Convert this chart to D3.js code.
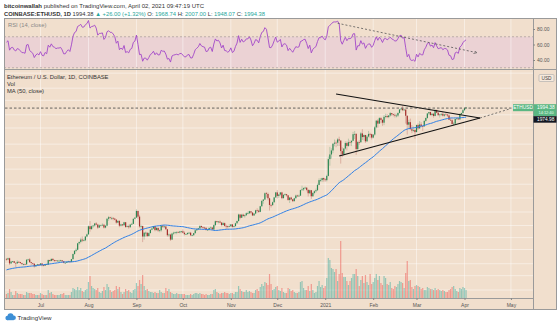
<!DOCTYPE html>
<html><head><meta charset="utf-8">
<script src="https://cdn.jsdelivr.net/npm/d3@7"></script>
<style>
body{margin:0;background:#fff}
svg{display:block;font-family:"Liberation Sans",Arial,sans-serif}
</style>
</head><body>
<svg id="c" width="560" height="325"></svg>
<script>
// ---------------- DATA ----------------
const firstCloseDate = "2020-04-20";   // closes start here (needed for MA50 / RSI14)
const displayStart = "2020-06-09";     // first candle drawn
const closes = [
171,170,182,185,188,194,197,196,197,216,206,
212,214,210,207,206,204,212,212,211,188,186,190,199,203,194,200,207,214,214,209,198,208,207,200,205,202,209,220,220,243,231,
248,237,244,244,241,242,245,246,244,248,231,237,238,233,231,236,235,232,229,229,228,243,244,235,232,230,222,226,228,226,
231,225,224,229,227,242,239,246,242,241,239,240,240,241,238,233,233,236,238,236,245,263,275,279,305,311,321,317,318,335,345,
386,371,386,390,401,395,379,391,391,394,379,389,428,437,433,433,429,423,406,416,389,396,391,408,382,386,381,395,399,428,435,
477,441,385,387,335,353,353,337,351,368,374,387,366,377,364,365,389,384,385,370,341,344,321,349,353,355,357,354,359,360,
353,346,346,352,353,341,341,351,365,370,375,387,381,379,378,367,368,377,379,369,392,414,409,412,406,393,403,388,387,383,386,
396,383,387,402,415,454,434,453,444,449,462,462,475,466,448,460,481,479,471,509,548,558,609,603,568,518,517,538,575,616,
587,598,616,569,596,601,592,555,574,560,546,568,590,586,589,636,642,654,658,638,609,635,584,612,626,635,683,730,731,751,737,
730,774,976,1041,1100,1208,1225,1224,1281,1262,1090,1043,1130,1218,1171,1233,1230,1257,1377,1382,1121,1235,1233,1392,1324,1362,1248,1332,1382,1377,1314,
1370,1514,1660,1594,1719,1678,1614,1750,1769,1744,1783,1843,1813,1800,1779,1781,1848,1937,1960,1919,1935,1776,1571,1626,1475,1446,1459,1417,
1565,1492,1575,1541,1533,1655,1723,1834,1869,1795,1826,1772,1924,1854,1792,1807,1823,1779,1808,1806,1783,1680,1669,1584,1592,1700,1713,1690,1817,1846,1919,
1968.38,1994.38];
const lastOpen = 1968.74;
const highs = [
248,250,250,239,239,239,233,241,239,236,233,231,232,245,246,249,236,233,232,227,230,229,
232,232,227,230,230,244,243,247,248,243,241,242,243,243,242,239,235,237,240,239,246,265,277,285,306,312,330,335,325,336,349,
390,415,391,393,404,409,399,396,395,402,399,392,433,445,440,440,438,433,425,417,418,399,398,410,409,392,394,399,405,429,437,
488,478,452,394,389,356,359,353,355,369,377,387,388,382,380,369,391,392,393,386,372,349,348,353,358,358,359,359,362,362,
370,360,350,354,357,357,344,352,367,375,377,393,390,385,383,378,371,380,385,382,396,418,416,415,418,409,410,407,395,391,397,
398,398,391,405,418,459,456,458,459,454,468,473,478,476,470,463,485,495,485,512,552,563,617,620,615,574,527,543,579,620,
636,602,619,622,598,608,603,592,576,580,563,573,598,597,598,640,676,660,667,660,641,640,637,616,633,650,696,748,750,755,756,
749,787,1010,1155,1133,1210,1279,1262,1306,1330,1262,1149,1133,1248,1245,1295,1265,1262,1422,1440,1399,1254,1266,1420,1476,1370,1364,1361,1440,1405,1387,
1375,1540,1671,1696,1744,1744,1694,1795,1826,1819,1793,1871,1845,1823,1834,1822,1854,1949,1966,2042,1965,1936,1785,1681,1708,1562,1530,1482,
1568,1599,1651,1625,1549,1668,1733,1837,1875,1877,1837,1840,1947,1934,1866,1815,1834,1872,1822,1853,1817,1812,1724,1701,1630,1704,1734,1726,1839,1853,1955,
1986,2007];
const lows = [
240,242,226,229,234,231,219,230,232,230,226,225,227,227,241,233,226,227,218,221,223,224,
224,222,222,223,226,226,236,238,239,236,238,238,236,237,235,231,231,232,234,232,235,244,260,270,277,299,305,310,313,314,331,
344,358,368,378,384,390,372,377,385,388,374,375,386,416,425,421,419,419,400,403,381,385,387,390,377,380,373,378,392,398,425,
435,428,378,368,310,321,334,332,335,350,365,373,360,364,357,355,358,377,377,369,334,333,315,319,343,346,346,352,350,351,
350,340,344,344,347,337,336,339,348,362,367,373,378,374,371,363,364,365,374,367,367,387,405,402,403,386,390,384,372,374,381,
382,379,380,384,401,411,425,434,443,435,447,455,457,457,446,446,456,465,464,468,505,526,556,574,553,480,500,512,534,571,
566,571,589,561,566,588,582,548,532,553,539,543,568,578,578,588,631,628,646,626,582,604,563,580,600,614,629,680,712,712,715,
714,717,769,891,982,1059,1165,1150,1170,1170,917,1001,1022,1114,1100,1155,1175,1169,1255,1289,1035,1095,1187,1220,1271,1263,1220,1238,1316,1304,1280,
1297,1348,1491,1505,1592,1603,1546,1560,1716,1719,1718,1755,1771,1761,1734,1736,1745,1834,1914,1894,1898,1595,1370,1476,1469,1397,1423,1293,
1413,1461,1482,1511,1440,1532,1635,1703,1791,1776,1765,1730,1764,1845,1771,1732,1774,1760,1751,1799,1745,1675,1657,1580,1548,1588,1677,1682,1674,1787,1826,
1895,1948.07];
// daily volume (thousand ETH), from displayStart
const volumes = [
80,100,180,120,60,60,140,100,80,80,80,60,60,120,100,100,100,80,80,60,60,60,
100,80,60,60,60,160,100,120,80,60,60,60,60,80,80,100,60,60,60,60,120,200,180,160,220,160,200,140,120,160,180,
320,440,240,200,180,160,200,120,100,140,220,160,280,220,160,120,140,160,240,180,220,120,80,120,180,140,160,120,100,160,180,
300,240,360,280,460,240,160,180,140,120,120,100,120,100,100,160,120,100,100,200,140,180,120,100,80,80,100,80,80,80,
80,80,60,60,60,80,60,80,100,100,80,100,80,80,60,80,60,60,80,80,160,180,120,100,80,100,100,120,100,100,80,
100,100,80,120,120,240,180,140,120,120,160,120,140,120,100,100,160,180,140,220,280,240,320,300,260,480,280,160,180,220,
240,160,140,200,120,100,100,200,180,140,160,120,100,100,120,320,340,200,160,160,240,140,280,160,100,120,240,340,220,260,200,
240,400,800,760,600,580,520,580,340,480,1140,500,420,420,340,260,340,400,480,480,580,440,240,360,440,300,460,320,260,480,280,
320,400,480,360,440,300,260,440,400,280,260,320,200,180,240,220,280,340,320,300,200,500,740,340,360,220,180,240,
260,240,220,180,200,160,160,220,200,180,180,160,200,160,180,160,140,160,140,120,120,160,180,220,240,180,140,120,200,180,220,
200,160];
const monthTicks = ["2020-07-01","2020-08-01","2020-09-01","2020-10-01","2020-11-01","2020-12-01","2021-01-01","2021-02-01","2021-03-01","2021-04-01","2021-05-01"];
const monthLabels = ["Jul","Aug","Sep","Oct","Nov","Dec","2021","Feb","Mar","Apr","May"];
const priceTicks = [3200,2600,2200,1800,1500,1200,1000,850,690,570,470,390,330,280,230,195,160];
const rsiTicks = [80,60,40];
const rsiBand = [70,30];
const hLineLevel = 1974.98;
const triUpper = [["2021-01-08",2399],["2021-04-11",1722]];
const triLower = [["2021-01-10",1019],["2021-04-11",1722]];
const projection = [["2021-04-11",1722],["2021-04-30",1950]];
const rsiTrend = [["2021-01-09",87.4],["2021-04-08",49.9]];
const lastPrice = 1994.38;
const countdown = "14:12:40";

// ---------------- LAYOUT ----------------
const L = 4, R = 533, FR = 557, RT = 18, RB = 69, MT = 70, MB = 298, FB = 310;
const BG = "#f1dfcd", FRAME = "#9a9a9a", GRID = "rgba(255,255,255,0.45)";
const UP = "#2c8753", DN = "#a3302d", VUP = "rgba(38,166,154,0.45)", VDN = "rgba(239,83,80,0.5)";
const GREEN = "#26a69a";

const svg = d3.select("#c");
const t0 = new Date(firstCloseDate);
const dateAt = i => d3.utcDay.offset(t0, i);
const offset = d3.utcDay.count(t0, new Date(displayStart));
const last = closes.length - 1;

const x = d3.scaleUtc().domain([new Date("2020-07-01"), new Date("2021-04-01")]).range([40.5, 464.5]);
const y = d3.scaleLog().domain([1500, 160]).range([128, 290]);
const ry = d3.scaleLinear().domain([80, 40]).range([29, 60]);
const vy = d3.scaleLinear().domain([0, 1200]).range([MB, MB - 60]);

// indicators
const ma = closes.map((c, i) => i < 49 ? null : d3.mean(closes.slice(i - 49, i + 1)));
function rsiCalc(v, n) {
  const out = v.map(() => null); let ag = 0, al = 0;
  for (let i = 1; i < v.length; i++) {
    const ch = v[i] - v[i - 1], g = Math.max(ch, 0), l = Math.max(-ch, 0);
    if (i <= n) { ag += g / n; al += l / n; if (i === n) out[i] = 100 - 100 / (1 + ag / al); }
    else { ag = (ag * (n - 1) + g) / n; al = (al * (n - 1) + l) / n; out[i] = al === 0 ? 100 : 100 - 100 / (1 + ag / al); }
  }
  return out;
}
const rsi = rsiCalc(closes, 14);

const bars = d3.range(offset, closes.length).map(i => {
  const j = i - offset;
  const o = i === last ? lastOpen : closes[i - 1];
  return { date: dateAt(i), o, c: closes[i], h: highs[j], l: lows[j], v: volumes[j], ma: ma[i], rsi: rsi[i] };
});

// ---------------- BACKGROUND ----------------
svg.append("rect").attr("width", 560).attr("height", 325).attr("fill", "#fff");
svg.append("rect").attr("x", L).attr("y", RT).attr("width", FR - L).attr("height", FB - RT).attr("fill", BG);

const defs = svg.append("defs");
defs.append("clipPath").attr("id", "mainClip").append("rect").attr("x", L).attr("y", MT).attr("width", R - L).attr("height", MB - MT);
defs.append("clipPath").attr("id", "rsiClip").append("rect").attr("x", L).attr("y", RT).attr("width", R - L).attr("height", RB - RT);
defs.append("clipPath").attr("id", "paxClip").append("rect").attr("x", R).attr("y", MT).attr("width", FR - R).attr("height", MB - MT);
defs.append("marker").attr("id", "arr").attr("viewBox", "0 0 6 6").attr("refX", 3).attr("refY", 3)
  .attr("markerWidth", 4).attr("markerHeight", 4).attr("orient", "auto")
  .append("path").attr("d", "M0,0L6,3L0,6").attr("fill", "none").attr("stroke", "#555").attr("stroke-width", 1.2);

// RSI band
svg.append("rect").attr("x", L).attr("width", R - L)
  .attr("y", ry(rsiBand[0])).attr("height", ry(rsiBand[1]) - ry(rsiBand[0])).attr("fill", "#ebd2d4");

// grids
const monthDates = monthTicks.map(d => new Date(d));
svg.append("g").selectAll("line").data(monthDates).join("line")
  .attr("x1", d => x(d)).attr("x2", d => x(d)).attr("y1", RT).attr("y2", MB)
  .attr("stroke", GRID).attr("stroke-width", 1);
svg.append("g").selectAll("line").data(priceTicks.filter(p => y(p) > MT + 2)).join("line")
  .attr("x1", L).attr("x2", R).attr("y1", d => y(d)).attr("y2", d => y(d))
  .attr("stroke", GRID).attr("stroke-width", 1);

svg.append("g").selectAll("line").data(rsiBand).join("line")
  .attr("x1", L).attr("x2", R).attr("y1", d => ry(d)).attr("y2", d => ry(d))
  .attr("stroke", "#a89a9a").attr("stroke-dasharray", "2,2").attr("stroke-width", 0.7);

// ---------------- RSI ----------------
const rsiG = svg.append("g").attr("clip-path", "url(#rsiClip)");
rsiG.append("path").datum(bars).attr("fill", "none").attr("stroke", "#a347c8").attr("stroke-width", 0.9)
  .attr("d", d3.line().x(d => x(d.date)).y(d => ry(d.rsi)));
rsiG.append("line")
  .attr("x1", x(new Date(rsiTrend[0][0]))).attr("y1", ry(rsiTrend[0][1]))
  .attr("x2", x(new Date(rsiTrend[1][0]))).attr("y2", ry(rsiTrend[1][1]))
  .attr("stroke", "#555").attr("stroke-width", 0.8).attr("stroke-dasharray", "2,2").attr("marker-end", "url(#arr)");

// ---------------- MAIN PANE ----------------
const mg = svg.append("g").attr("clip-path", "url(#mainClip)");
const bw = 1.2;
mg.append("g").selectAll("rect").data(bars).join("rect")
  .attr("x", d => x(d.date) - bw / 2).attr("width", bw)
  .attr("y", d => vy(d.v)).attr("height", d => MB - vy(d.v))
  .attr("fill", d => d.c >= d.o ? VUP : VDN);

mg.append("g").selectAll("line").data(bars).join("line")
  .attr("x1", d => x(d.date)).attr("x2", d => x(d.date))
  .attr("y1", d => y(d.h)).attr("y2", d => y(d.l))
  .attr("stroke", d => d.c >= d.o ? UP : DN).attr("stroke-opacity", 0.55).attr("stroke-width", 0.5);
mg.append("g").selectAll("rect").data(bars).join("rect")
  .attr("x", d => x(d.date) - bw / 2).attr("width", bw)
  .attr("y", d => y(Math.max(d.o, d.c)))
  .attr("height", d => Math.max(0.7, Math.abs(y(d.o) - y(d.c))))
  .attr("fill", d => d.c >= d.o ? UP : DN);

mg.append("path").datum(bars).attr("fill", "none").attr("stroke", "#2f80e6").attr("stroke-width", 1)
  .attr("d", d3.line().x(d => x(d.date)).y(d => y(d.ma)));

// drawings
svg.append("line").attr("x1", L + 1).attr("x2", 513).attr("y1", y(hLineLevel)).attr("y2", y(hLineLevel))
  .attr("stroke", "#444").attr("stroke-width", 0.8).attr("stroke-dasharray", "2.5,2");
[triUpper, triLower].forEach(seg => {
  mg.append("line")
    .attr("x1", x(new Date(seg[0][0]))).attr("y1", y(seg[0][1]))
    .attr("x2", x(new Date(seg[1][0]))).attr("y2", y(seg[1][1]))
    .attr("stroke", "#111").attr("stroke-width", 1.1);
});
svg.append("line")
  .attr("x1", x(new Date(projection[0][0]))).attr("y1", y(projection[0][1]))
  .attr("x2", x(new Date(projection[1][0]))).attr("y2", y(projection[1][1]))
  .attr("stroke", "#555").attr("stroke-width", 0.8).attr("stroke-dasharray", "2,2");

// ---------------- FRAME ----------------
const frame = svg.append("g").attr("stroke", FRAME).attr("stroke-width", 1).attr("fill", "none");
frame.append("rect").attr("x", L + 0.5).attr("y", RT + 0.5).attr("width", FR - L - 1).attr("height", FB - RT - 1);
frame.append("line").attr("x1", L).attr("x2", FR).attr("y1", RB + 0.5).attr("y2", RB + 0.5);
frame.append("line").attr("x1", R + 0.5).attr("x2", R + 0.5).attr("y1", RT).attr("y2", FB);
frame.append("line").attr("x1", L).attr("x2", R).attr("y1", MB + 0.5).attr("y2", MB + 0.5);

// ---------------- AXES ----------------
function styleAxis(g) {
  g.select(".domain").remove();
  g.selectAll("line").attr("stroke", "#888");
  g.selectAll("text").attr("fill", "#555").attr("font-size", 5).attr("font-family", '"Liberation Sans",Arial,sans-serif');
}
const py = y(lastPrice);
// axis labels that sit under the last-price / line labels are hidden, as in TradingView
const visiblePriceTicks = priceTicks.filter(p => y(p) < py - 5 || y(p) > py + 17);
svg.append("g").attr("transform", `translate(${R},0)`).attr("clip-path", "url(#paxClip)")
  .call(d3.axisRight(y).tickValues(visiblePriceTicks).tickFormat(d3.format(".2f")).tickSize(2).tickPadding(2))
  .call(styleAxis);
svg.append("g").attr("transform", `translate(${R},0)`)
  .call(d3.axisRight(ry).tickValues(rsiTicks).tickFormat(d3.format(".2f")).tickSize(2).tickPadding(2))
  .call(styleAxis);
svg.append("g").attr("transform", `translate(0,${MB})`)
  .call(d3.axisBottom(x).tickValues(monthDates).tickFormat((d, i) => monthLabels[i]).tickSize(2).tickPadding(3))
  .call(styleAxis);

// USD box
svg.append("rect").attr("x", 539).attr("y", 74.5).attr("width", 15).attr("height", 7).attr("rx", 1)
  .attr("fill", "#f6e9dc").attr("stroke", "#aaa").attr("stroke-width", 0.6);
svg.append("text").attr("x", 546.5).attr("y", 80).attr("text-anchor", "middle").attr("font-size", 4.8).attr("fill", "#444").text("USD");

// price labels
svg.append("rect").attr("x", 513).attr("y", py - 3.2).attr("width", 20).attr("height", 7).attr("fill", "#5bb783");
svg.append("text").attr("x", 523).attr("y", py + 1.8).attr("text-anchor", "middle").attr("font-size", 4.8).attr("fill", "#fff").text("ETHUSD");
svg.append("rect").attr("x", R + 0.5).attr("y", py - 3.2).attr("width", FR - R - 1).attr("height", 12).attr("fill", "#5bb783");
svg.append("text").attr("x", 537).attr("y", py + 1.6).attr("font-size", 4.9).attr("fill", "#fff").text(d3.format(".2f")(lastPrice));
svg.append("text").attr("x", 538.5).attr("y", py + 6.9).attr("font-size", 3.9).attr("fill", "#e8fff0").text(countdown);
svg.append("rect").attr("x", R + 0.5).attr("y", py + 8.8).attr("width", FR - R - 1).attr("height", 6.5).attr("fill", "#131722");
svg.append("text").attr("x", 537).attr("y", py + 14).attr("font-size", 4.8).attr("fill", "#fff").text(d3.format(".2f")(hLineLevel));

// ---------------- TEXTS ----------------
const h1 = svg.append("text").attr("x", 4).attr("y", 8).attr("font-size", 6).attr("fill", "#333");
h1.append("tspan").attr("font-weight", "bold").text("bitcoinwallah");
h1.append("tspan").text(" published on TradingView.com, April 02, 2021 09:47:19 UTC");

const h2 = svg.append("text").attr("x", 4).attr("y", 15.5).attr("font-size", 5.8).attr("fill", "#333");
h2.append("tspan").attr("font-weight", "bold").text("COINBASE:ETHUSD, 1D");
h2.append("tspan").text("  1994.38 ");
h2.append("tspan").attr("fill", GREEN).text("▲ +26.00 (+1.32%)");
[["O:", "1968.74"], ["H:", "2007.00"], ["L:", "1948.07"], ["C:", "1994.38"]].forEach(([k, v]) => {
  h2.append("tspan").text(" " + k + " ");
  h2.append("tspan").attr("fill", GREEN).text(v);
});

svg.append("text").attr("x", 8).attr("y", 26.5).attr("font-size", 5.8).attr("fill", "#888").text("RSI (14, close)");
[["Ethereum / U.S. Dollar, 1D, COINBASE", 78.5], ["Vol", 86], ["MA (50, close)", 93]].forEach(([t, yy]) => {
  svg.append("text").attr("x", 7).attr("y", yy).attr("font-size", 5.8).attr("fill", "#333").text(t);
});

// TradingView logo
const lg = svg.append("g").attr("transform", "translate(5,313)").attr("fill", "#3d8fd6");
lg.append("circle").attr("cx", 5.5).attr("cy", 3.2).attr("r", 3);
lg.append("circle").attr("cx", 2.6).attr("cy", 5).attr("r", 2.2);
lg.append("circle").attr("cx", 8.6).attr("cy", 4.8).attr("r", 2.3);
lg.append("rect").attr("x", 2.4).attr("y", 4.6).attr("width", 6.4).attr("height", 2.6);
svg.append("text").attr("x", 17.5).attr("y", 320).attr("font-size", 6.2).attr("fill", "#333").text("TradingView");
</script>
</body></html>
